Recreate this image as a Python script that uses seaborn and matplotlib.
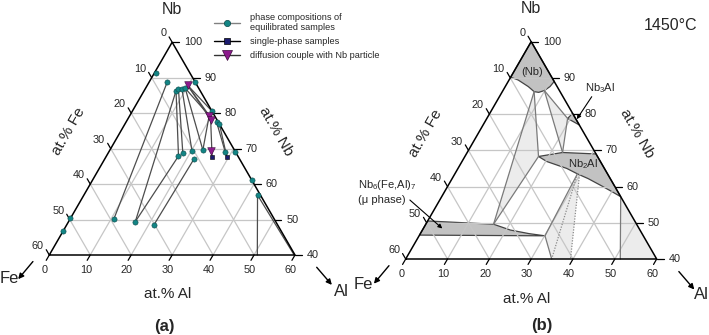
import numpy as np
import pandas as pd
import matplotlib
matplotlib.use("Agg")
import matplotlib.pyplot as plt
import seaborn as sns
from matplotlib.lines import Line2D

sns.set_theme(style="white")
plt.rcParams["font.family"] = ["Liberation Sans", "DejaVu Sans"]
plt.rcParams["mathtext.fontset"] = "custom"
plt.rcParams["mathtext.rm"] = "Liberation Sans"
plt.rcParams["mathtext.it"] = "Liberation Sans:italic"
plt.rcParams["mathtext.bf"] = "Liberation Sans:bold"

# ---------------- data: compositions as (at.% Al, at.% Nb) ----------------
fe_ticks = [0, 10, 20, 30, 40, 50, 60]
nb_ticks = [100, 90, 80, 70, 60, 50, 40]
al_ticks = [0, 10, 20, 30, 40, 50, 60]
grid_levels = [10, 20, 30, 40, 50]

# (a) phase compositions of equilibrated samples
eq_al = [0.3, 4.4, 11.1, 7.8, 8.2, 9.0, 9.7, 19.4, 22.1, 23.1, 17.6, 18.2,
         20.2, 22.7, 28.4, 30.9, 21.8, 38.9, 42.4, 0.0, 0.0, 10.7, 16.3, 21.3]
eq_nb = [91.3, 88.9, 88.9, 86.3, 86.7, 86.8, 87.0, 80.6, 77.5, 76.9, 67.9, 68.8,
         69.3, 69.6, 69.1, 69.1, 67.2, 61.1, 56.9, 50.3, 46.8, 50.1, 49.4, 48.4]
# (a) single-phase samples
sp_al = [25.9, 29.5]
sp_nb = [67.7, 67.7]
# (a) diffusion couple with Nb particle
dc_al = [9.8, 19.4, 20.3, 24.8]
dc_nb = [87.9, 79.3, 78.2, 69.3]
# (a) tie lines
tie_al_start = [4.4, 7.8, 7.8, 16.3, 8.2, 9.0, 9.7, 21.3, 22.1, 42.4, 42.4,
                9.8, 9.8, 9.8, 9.7, 19.4, 20.3, 23.1]
tie_nb_start = [88.9, 86.3, 86.3, 49.4, 86.7, 86.8, 87.0, 48.4, 77.5, 56.9, 56.9,
                87.9, 87.9, 87.9, 87.0, 79.3, 78.2, 76.9]
tie_al_end = [10.7, 16.3, 17.6, 17.6, 18.2, 20.2, 22.7, 21.8, 28.4, 50.8, 59.8,
              19.4, 20.3, 19.4, 19.4, 22.7, 25.9, 29.5]
tie_nb_end = [50.1, 49.4, 67.9, 67.9, 68.8, 69.3, 69.6, 67.2, 69.1, 40.0, 40.0,
              79.3, 78.2, 80.6, 79.3, 69.6, 67.7, 67.7]

# (b) single-phase fields at 1450 C
nbss_al = [0, 0, 2.2, 5.5, 7.6, 8.8, 9.9, 10.7, 11.0]
nbss_nb = [100, 90.2, 89.4, 87.6, 86.2, 86.0, 86.5, 87.6, 89.0]
nb3al_al = [19.8, 19.3, 23.0]
nb3al_nb = [80.2, 78.8, 77.0]
nb2al_al = [17.6, 22.8, 31.0, 42.8, 40.0, 36.3, 32.5, 29.3, 26.0, 20.3]
nb2al_nb = [68.3, 69.4, 69.0, 57.2, 58.6, 60.4, 62.2, 63.5, 65.0, 66.9]
mu_al = [0, 16.2, 21.0, 26.0, 30.1, 0]
mu_nb = [50.5, 49.6, 48.0, 47.0, 46.4, 46.6]
# (b) three-phase fields (light)
tp1_al, tp1_nb = [7.6, 17.6, 16.2], [86.2, 68.3, 49.6]
tp2_al, tp2_nb = [9.9, 19.3, 22.8], [86.5, 78.8, 69.4]
tp3_al, tp3_nb = [30.1, 29.3, 29.9, 39.4, 34.9], [46.4, 63.5, 63.3, 40.0, 40.0]
tp4_al, tp4_nb = [42.8, 51.3, 60.0], [57.2, 40.0, 40.0]
# (b) phase-boundary lines
bl_al_start = [7.6, 7.6, 16.2, 9.9, 9.9, 19.3, 30.1, 30.1, 42.8]
bl_nb_start = [86.2, 86.2, 49.6, 86.5, 86.5, 78.8, 46.4, 46.4, 57.2]
bl_al_end = [16.2, 17.6, 17.6, 22.8, 19.3, 22.8, 29.3, 34.9, 51.3]
bl_nb_end = [49.6, 68.3, 68.3, 69.4, 78.8, 69.4, 63.5, 40.0, 40.0]
dot_al_start = [29.3, 29.9]
dot_nb_start = [63.5, 63.3]
dot_al_end = [34.9, 39.4]
dot_nb_end = [40.0, 40.0]

TEAL = "#138585"
NAVY = "#1b1b6e"
PURPLE = "#8c1a8c"
GRID = "#c6c6c6"
DARKFILL = "#c2c2c2"
LIGHTFILL = "#ececec"


def T(al, nb):
    al = np.asarray(al, float)
    nb = np.asarray(nb, float)
    return al + 0.5 * (nb - 40.0), (nb - 40.0) * np.sqrt(3) / 2


def seg_frame(a1, n1, a2, n2):
    rows = []
    for i, (p, q, r, s) in enumerate(zip(a1, n1, a2, n2)):
        x1, y1 = T(p, q)
        x2, y2 = T(r, s)
        rows.append((i, 0, float(x1), float(y1)))
        rows.append((i, 1, float(x2), float(y2)))
    return pd.DataFrame(rows, columns=["seg", "k", "X", "Y"])


def frame(ax):
    # grid
    gl = []
    for n in [100 - g for g in grid_levels]:
        gl.append(((0, n), (100 - n, n)))
    for a in grid_levels:
        gl.append(((a, 40), (a, 100 - a)))
    for f in grid_levels:
        gl.append(((60 - f, 40), (0, 100 - f)))
    df = seg_frame([g[0][0] for g in gl], [g[0][1] for g in gl],
                   [g[1][0] for g in gl], [g[1][1] for g in gl])
    sns.lineplot(data=df, x="X", y="Y", units="seg", estimator=None, sort=False,
                 color=GRID, lw=0.9, ax=ax, zorder=2, legend=False)
    # outline
    ox, oy = T([0, 60, 0, 0], [40, 40, 100, 40])
    ax.plot(ox, oy, color="black", lw=1.1, zorder=6, solid_joinstyle="miter")
    L = 1.5
    for f in fe_ticks:
        x, y = T(0, 100 - f)
        ax.plot([x, x - 0.5 * L], [y, y + 0.866 * L], color="black", lw=0.9, zorder=6)
        ax.annotate(str(f), (x, y), xytext=(-4.0, 6.3), textcoords="offset points",
                    ha="right", va="center", fontsize=7.8)
    for n in nb_ticks:
        x, y = T(100 - n, n)
        ax.plot([x, x + 1.7], [y, y], color="black", lw=0.9, zorder=6)
        ax.annotate(str(n), (x, y), xytext=(8.4, 0), textcoords="offset points",
                    ha="left", va="center", fontsize=7.8)
    for a in al_ticks:
        x, y = T(a, 40)
        ax.plot([x, x - 0.5 * L], [y, y - 0.866 * L], color="black", lw=0.9, zorder=6)
        ax.annotate(str(a), (x, y), xytext=(-3.1, -10.8), textcoords="offset points",
                    ha="center", va="center", fontsize=7.8)
    ax.text(30.0, 60.0, "Nb", ha="center", va="center", fontsize=11.5)
    ax.text(4.7, 30.1, "at.% Fe", ha="center", va="center", fontsize=11, rotation=60)
    ax.text(55.3, 30.1, "at.% Nb", ha="center", va="center", fontsize=11, rotation=-60)
    ax.text(29.0, -9.6, "at.% Al", ha="center", va="center", fontsize=11)
    arw = dict(arrowstyle="-|>", color="black", lw=1.0, mutation_scale=8,
               shrinkA=0, shrinkB=0)
    ax.annotate("", xy=(-7.6, -5.9), xytext=(-4.0, -1.6), arrowprops=arw)
    ax.annotate("", xy=(69.0, -7.3), xytext=(65.3, -3.0), arrowprops=arw)
    ax.axis("off")


fig = plt.figure(figsize=(7.09, 3.35), dpi=100)

# ---------------- panel (a) ----------------
sa = 4.095
axA = fig.add_axes([0, 0, 354 / 709, 1])
axA.set_xlim(-49.3 / sa, (354 - 49.3) / sa)
axA.set_ylim(-(335 - 255) / sa, 255 / sa)
frame(axA)

tdf = seg_frame(tie_al_start, tie_nb_start, tie_al_end, tie_nb_end)
sns.lineplot(data=tdf, x="X", y="Y", units="seg", estimator=None, sort=False,
             color="#4d4d4d", lw=0.9, ax=axA, zorder=4, legend=False)

ex, ey = T(eq_al, eq_nb)
sns.scatterplot(x=ex, y=ey, marker="o", s=14, color=TEAL, edgecolor="#0b4848",
                linewidth=0.4, ax=axA, zorder=7)
sx, sy = T(sp_al, sp_nb)
sns.scatterplot(x=sx, y=sy, marker="s", s=12, color=NAVY, edgecolor="black",
                linewidth=0.4, ax=axA, zorder=7)
dx, dy = T(dc_al, dc_nb)
sns.scatterplot(x=dx, y=dy, marker="v", s=30, color=PURPLE, edgecolor="#3a0a3a",
                linewidth=0.4, ax=axA, zorder=8)

axA.text(-9.8, -5.7, "Fe", ha="center", va="center", fontsize=12)
axA.text(71.3, -9.0, "Al", ha="center", va="center", fontsize=12, clip_on=False)
axA.text(28.1, -17.5, "(a)", ha="center", va="center", fontsize=12, fontweight="bold")

handles = [
    Line2D([0], [0], color="#808080", lw=1.0, marker="o", markersize=4.5,
           mfc=TEAL, mec="#0b4848", mew=0.5),
    Line2D([0], [0], color="black", lw=1.0, marker="s", markersize=3.8,
           mfc=NAVY, mec="black", mew=0.5),
    Line2D([0], [0], color="#333333", lw=1.0, marker="v", markersize=6.5,
           mfc=PURPLE, mec="#3a0a3a", mew=0.5),
]
labels = ["phase compositions of\nequilibrated samples", "single-phase samples",
          "diffusion couple with Nb particle"]
axA.legend(handles, labels, loc="upper left", bbox_to_anchor=(214 / 709, 1 - 13 / 335),
           bbox_transform=fig.transFigure, frameon=False, fontsize=6.6,
           handlelength=2.85, handletextpad=1.1, labelspacing=0.55,
           borderpad=0, borderaxespad=0)

# ---------------- panel (b) ----------------
sb = 4.183
axB = fig.add_axes([354 / 709, 0, 355 / 709, 1])
axB.set_xlim((354 - 405.7) / sb, (709 - 405.7) / sb)
axB.set_ylim(-(335 - 259) / sb, 259 / sb)
frame(axB)

for pa, pn in [(tp1_al, tp1_nb), (tp2_al, tp2_nb), (tp3_al, tp3_nb), (tp4_al, tp4_nb)]:
    px, py = T(pa, pn)
    axB.fill(px, py, color=LIGHTFILL, lw=0, zorder=1)
for pa, pn in [(nbss_al, nbss_nb), (nb3al_al, nb3al_nb), (nb2al_al, nb2al_nb), (mu_al, mu_nb)]:
    px, py = T(pa, pn)
    axB.fill(px, py, facecolor=DARKFILL, edgecolor="#444444", lw=0.9, zorder=1.5)

bdf = seg_frame(bl_al_start, bl_nb_start, bl_al_end, bl_nb_end)
sns.lineplot(data=bdf, x="X", y="Y", units="seg", estimator=None, sort=False,
             color="#7a7a7a", lw=0.9, ax=axB, zorder=4, legend=False)
ddf = seg_frame(dot_al_start, dot_nb_start, dot_al_end, dot_nb_end)
sns.lineplot(data=ddf, x="X", y="Y", units="seg", estimator=None, sort=False,
             color="#8a8a8a", lw=0.9, ls=(0, (1, 1.2)), ax=axB, zorder=4, legend=False)

axB.text(63.2, 55.9, "1450°C", ha="center", va="center", fontsize=11.5)
axB.text(-10.1, -6.2, "Fe", ha="center", va="center", fontsize=12)
axB.text(70.8, -8.6, "Al", ha="center", va="center", fontsize=12)
axB.text(32.5, -15.9, "(b)", ha="center", va="center", fontsize=12, fontweight="bold")

lx, ly = T(4.4, 91.7)
axB.text(lx, ly, "(Nb)", ha="center", va="center", fontsize=8)
lx, ly = T(22.85, 87.2)
axB.text(lx, ly, r"Nb$_{\mathregular{3}}$Al", ha="center", va="center", fontsize=8)
hx, hy = T(21.6, 78.6)
tx, ty = T(22.07, 84.8)
arw2 = dict(arrowstyle="-|>", color="black", lw=0.8, mutation_scale=6,
            shrinkA=0, shrinkB=0)
axB.annotate("", xy=(float(hx), float(hy)), xytext=(float(tx), float(ty)), arrowprops=arw2)
lx, ly = T(29.3, 66.2)
axB.text(lx, ly, r"Nb$_{\mathregular{2}}$Al", ha="center", va="center", fontsize=8)
axB.text(-11.4, 17.7, r"Nb$_{\mathregular{6}}$(Fe,Al)$_{\mathregular{7}}$",
         ha="left", va="center", fontsize=8)
axB.text(-11.4, 14.2, "(μ phase)", ha="left", va="center", fontsize=8)
axB.annotate("", xy=(8.75, 7.3), xytext=(1.0, 14.1), arrowprops=arw2)

fig.savefig("out.png", dpi=100)
